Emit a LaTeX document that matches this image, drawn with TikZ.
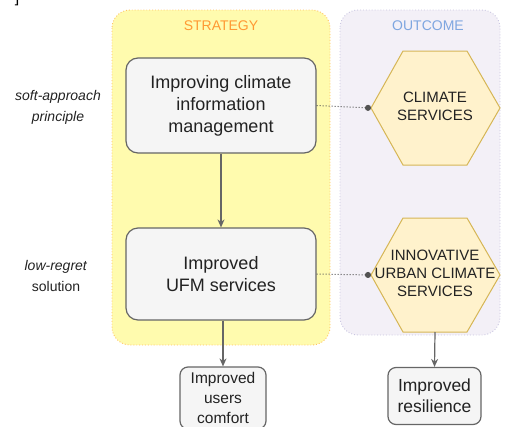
\documentclass[tikz,border=0pt]{standalone}
\usepackage{fontspec}
\setmainfont{Liberation Sans}
\usetikzlibrary{arrows.meta}
\definecolor{yelfill}{HTML}{FFFBAE}
\definecolor{yeldraw}{HTML}{FFC266}
\definecolor{purfill}{HTML}{F3F0F7}
\definecolor{purdraw}{HTML}{C8C4E0}
\definecolor{boxfill}{HTML}{F5F5F5}
\definecolor{boxdraw}{HTML}{666666}
\definecolor{hexfill}{HTML}{FFF2CC}
\definecolor{hexdraw}{HTML}{D6B656}
\definecolor{strat}{HTML}{FF9933}
\definecolor{outc}{HTML}{7EA6E0}
\definecolor{txt}{HTML}{222222}
\tikzset{
  container/.style={rounded corners=18pt, dotted, line width=0.9pt},
  mainbox/.style={draw=boxdraw, fill=boxfill, line width=1.2pt, rounded corners=12pt, align=center, text=txt, inner sep=0pt},
  smallbox/.style={draw=boxdraw, fill=boxfill, line width=1.2pt, rounded corners=8pt, align=center, text=txt, inner sep=0pt},
  hexa/.style={draw=hexdraw, fill=hexfill, line width=1pt},
  hextext/.style={align=center, text=txt, font=\fontsize{15}{18}\selectfont},
  arr/.style={draw=boxdraw, line width=1.2pt, -{Stealth[length=8pt,width=7pt]}},
  dotcon/.style={draw=boxdraw!80!black, line width=1pt, dotted, -{Circle[length=6pt]}},
  lbl/.style={align=center, text=txt, font=\fontsize{14}{21}\selectfont},
}
\begin{document}
\begin{tikzpicture}[x=1pt,y=-1pt]
\useasboundingbox (0,0) rectangle (506,426);
% stray bracket fragment
\node[text=black, font=\fontsize{16}{16}\selectfont, anchor=south] (brk) at (17,9) {]};
% containers
\draw[container, draw=yeldraw, fill=yelfill] (112,10) rectangle (330,345);
\draw[container, draw=purdraw, fill=purfill] (340,10) rectangle (500,335);
\node[text=strat, font=\fontsize{14}{14}\selectfont] (strategy) at (221,26) {STRATEGY};
\node[text=outc, font=\fontsize{14}{14}\selectfont] (outcome) at (428,26) {OUTCOME};
% strategy boxes
\node[mainbox, minimum width=190pt, minimum height=95pt, font=\fontsize{18}{22}\selectfont] (b1) at (221,105.5) {Improving climate\\information\\management};
\node[mainbox, minimum width=190pt, minimum height=92pt, font=\fontsize{18}{22}\selectfont] (b2) at (221,274) {Improved\\UFM services};
\draw[arr] (b1.south) -- (b2.north);
% hexagons
\draw[hexa] (371,108) coordinate (h1l) -- (403,51) -- (467,51) -- (500,108) -- (467,165) -- (403,165) -- cycle;
\coordinate (h1b) at (435,165);
\node[hextext] (h1) at (435,106) {CLIMATE\\SERVICES};
\draw[hexa] (371,275) coordinate (h2l) -- (403,218) -- (467,218) -- (500,275) -- (467,332) -- (403,332) -- cycle;
\coordinate (h2b) at (435,332);
\node[hextext] (h2) at (435,273) {INNOVATIVE\\URBAN CLIMATE\\SERVICES};
% dotted connectors
\draw[dotcon] (b1.east) -- (h1l);
\draw[dotcon] (b2.east) -- (h2l);
% bottom boxes
\node[smallbox, minimum width=86pt, minimum height=62pt, font=\fontsize{15.5}{20}\selectfont] (c1) at (223,398) {Improved\\users\\comfort};
\node[smallbox, minimum width=93pt, minimum height=57pt, font=\fontsize{17.5}{21}\selectfont] (c2) at (434.5,396) {Improved\\resilience};
\draw[arr] (b2.south -| c1.north) -- (c1.north);
\draw[arr] (h2b) -- (c2.north);
% left labels
\node[lbl] (l1) at (58,107) {\textit{soft-approach}\\\textit{principle}};
\node[lbl] (l2) at (56,276) {\textit{low-regret}\\solution};
\end{tikzpicture}
\end{document}
